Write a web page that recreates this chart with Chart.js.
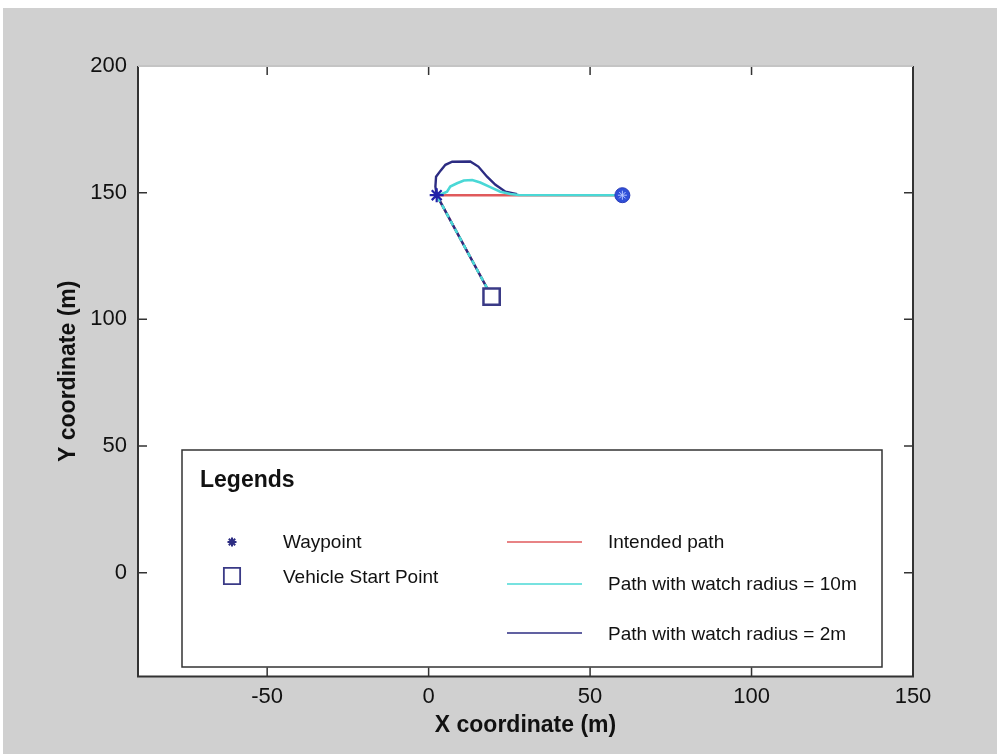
<!DOCTYPE html>
<html>
<head>
<meta charset="utf-8">
<title>Path following</title>
<script src="https://cdn.jsdelivr.net/npm/chart.js@4/dist/chart.umd.min.js"></script>
<style>
  html, body { margin: 0; padding: 0; background: #fff; }
  #wrap { position: absolute; left: 0; top: 0; width: 997px; height: 754px; }
</style>
</head>
<body>
<div id="wrap"><canvas id="pathChart" width="997" height="754"></canvas></div>
<script>
// positions in metres
const waypoint = [{ x: 2.5, y: 149 }];
const startPoint = [{ x: 19.5, y: 109 }];
const targetPoint = [{ x: 60, y: 149 }];

const intendedX = [19.5, 2.5, 60];
const intendedY = [109, 149, 149];

// watch radius = 10m
const radius10X = [19.5, 2.5, 4.3, 5.7, 6.7, 8.8, 10.9, 13.5, 16.0, 19.1, 22.2, 25.3, 27.9, 60];
const radius10Y = [109, 149, 149.6, 150.4, 152.4, 153.7, 154.8, 155.0, 154.0, 152.2, 150.4, 149.5, 149.1, 149];

// watch radius = 2m
const radius2X = [19.5, 2.5, 2.1, 2.3, 3.7, 5.2, 7.3, 12.9, 15.4, 18.1, 20.7, 23.8, 27.4];
const radius2Y = [109, 149, 152.4, 156.3, 158.7, 161.0, 162.2, 162.3, 160.3, 156.3, 153.1, 150.4, 149.4];

const xTicks = [-50, 0, 50, 100, 150];
const yTicks = [0, 50, 100, 150, 200];

const FONT = "'Liberation Sans', Arial, sans-serif";
const RED = '#e05a5c';
const CYAN = '#4ad8d6';
const NAVY = '#2c2c82';

function toPoints(xs, ys) {
  return xs.map((x, i) => ({ x: x, y: ys[i] }));
}

// grey figure background, white axes box, inward tick marks
const frame = {
  id: 'frame',
  beforeDraw(chart) {
    const { ctx, chartArea: a, width, height } = chart;
    ctx.save();
    ctx.fillStyle = '#ffffff';
    ctx.fillRect(0, 0, width, height);
    ctx.fillStyle = '#d0d0d0';
    ctx.fillRect(3, 8, width - 3, height - 8);
    ctx.fillStyle = '#ffffff';
    ctx.fillRect(a.left, a.top, a.right - a.left, a.bottom - a.top);
    ctx.restore();
  },
  afterDatasetsDraw(chart) {
    const { ctx, chartArea: a, scales } = chart;
    const len = 9;
    ctx.save();
    ctx.strokeStyle = '#333';
    ctx.lineWidth = 1.5;
    ctx.beginPath();
    xTicks.forEach((v) => {
      const px = scales.x.getPixelForValue(v);
      ctx.moveTo(px, a.bottom); ctx.lineTo(px, a.bottom - len);
      ctx.moveTo(px, a.top); ctx.lineTo(px, a.top + len);
    });
    yTicks.forEach((v) => {
      const py = scales.y.getPixelForValue(v);
      ctx.moveTo(a.left, py); ctx.lineTo(a.left + len, py);
      ctx.moveTo(a.right, py); ctx.lineTo(a.right - len, py);
    });
    ctx.stroke();

    ctx.lineWidth = 2;
    ctx.beginPath();
    ctx.moveTo(a.left, a.top);
    ctx.lineTo(a.left, a.bottom);
    ctx.lineTo(a.right, a.bottom);
    ctx.lineTo(a.right, a.top);
    ctx.stroke();
    ctx.strokeStyle = '#c4c4c4';
    ctx.beginPath();
    ctx.moveTo(a.left, a.top);
    ctx.lineTo(a.right, a.top);
    ctx.stroke();
    ctx.restore();
  }
};

// boxed legend in the lower part of the axes
const legendBox = {
  id: 'legendBox',
  afterDraw(chart) {
    const { ctx } = chart;
    const box = { x: 182, y: 450, w: 700, h: 217 };
    ctx.save();
    ctx.fillStyle = '#ffffff';
    ctx.fillRect(box.x, box.y, box.w, box.h);
    ctx.strokeStyle = '#333';
    ctx.lineWidth = 1.5;
    ctx.strokeRect(box.x, box.y, box.w, box.h);

    ctx.fillStyle = '#111';
    ctx.textBaseline = 'alphabetic';
    ctx.textAlign = 'left';
    ctx.font = 'bold 23px ' + FONT;
    ctx.fillText('Legends', 200, 487);

    ctx.font = '19px ' + FONT;
    const markers = [
      { label: 'Waypoint', style: 'star', color: NAVY, r: 4.5, y: 542, base: 548 },
      { label: 'Vehicle Start Point', style: 'rect', color: '#3a3a86', r: 11.5, y: 576, base: 582.5 }
    ];
    markers.forEach((m) => {
      ctx.strokeStyle = m.color;
      ctx.fillStyle = '#ffffff';
      ctx.lineWidth = m.style === 'star' ? 2 : 1.8;
      Chart.helpers.drawPoint(ctx, { pointStyle: m.style, radius: m.r, borderWidth: ctx.lineWidth }, 232, m.y);
      ctx.fillStyle = '#111';
      ctx.fillText(m.label, 283, m.base);
    });

    const lines = [
      { label: 'Intended path', color: RED, y: 542, base: 548 },
      { label: 'Path with watch radius = 10m', color: CYAN, y: 584, base: 590 },
      { label: 'Path with watch radius = 2m', color: NAVY, y: 633, base: 640 }
    ];
    lines.forEach((l) => {
      ctx.strokeStyle = l.color;
      ctx.lineWidth = 1.6;
      ctx.beginPath();
      ctx.moveTo(507, l.y);
      ctx.lineTo(582, l.y);
      ctx.stroke();
      ctx.fillStyle = '#111';
      ctx.fillText(l.label, 608, l.base);
    });
    ctx.restore();
  }
};

const pathLine = (data, color, width, order) => ({
  data: data,
  showLine: true,
  borderColor: color,
  borderWidth: width,
  pointRadius: 0,
  tension: 0,
  order: order
});

const radius10Line = pathLine(toPoints(radius10X, radius10Y), CYAN, 2.6, 4);
// the approach leg is shared with the 2m path, so let it show through
radius10Line.segment = { borderDash: (c) => (c.p0DataIndex === 0 ? [5, 4] : undefined) };

new Chart(document.getElementById('pathChart'), {
  type: 'scatter',
  data: {
    datasets: [
      pathLine(toPoints(intendedX, intendedY), RED, 2.4, 6),
      pathLine(toPoints(radius2X, radius2Y), NAVY, 2.4, 5),
      radius10Line,
      {
        data: startPoint,
        pointStyle: 'rect',
        pointRadius: 11.5,
        backgroundColor: '#ffffff',
        borderColor: '#3a3a86',
        borderWidth: 2.5,
        order: 3
      },
      {
        data: waypoint,
        pointStyle: 'star',
        pointRadius: 7,
        borderColor: '#2020a8',
        borderWidth: 2.2,
        order: 2
      },
      {
        data: targetPoint,
        pointStyle: 'circle',
        pointRadius: 7.5,
        backgroundColor: '#2f4fd8',
        borderColor: '#2a3cb8',
        borderWidth: 1,
        order: 1
      },
      {
        data: targetPoint,
        pointStyle: 'star',
        pointRadius: 4.5,
        borderColor: '#b4c4ff',
        borderWidth: 1,
        order: 0
      }
    ]
  },
  options: {
    responsive: false,
    animation: false,
    devicePixelRatio: 1,
    layout: { padding: { left: 0, top: 66, right: 84, bottom: 0 } },
    plugins: { legend: { display: false }, tooltip: { enabled: false } },
    scales: {
      x: {
        type: 'linear',
        min: -90,
        max: 150,
        afterBuildTicks: (s) => { s.ticks = xTicks.map((v) => ({ value: v })); },
        afterFit: (s) => { s.height = 77.5; },
        grid: { display: false, drawTicks: false },
        border: { display: false },
        ticks: { color: '#111', padding: 7, font: { family: FONT, size: 22 } },
        title: {
          display: true,
          text: 'X coordinate (m)',
          color: '#111',
          font: { family: FONT, size: 23, weight: 'bold' },
          padding: { top: 0, bottom: 15 }
        }
      },
      y: {
        type: 'linear',
        min: -41,
        max: 200,
        afterBuildTicks: (s) => { s.ticks = yTicks.map((v) => ({ value: v })); },
        afterFit: (s) => { s.width = 138; },
        grid: { display: false, drawTicks: false },
        border: { display: false },
        ticks: { color: '#111', padding: 11, font: { family: FONT, size: 22 } },
        title: {
          display: true,
          text: 'Y coordinate (m)',
          color: '#111',
          font: { family: FONT, size: 23, weight: 'bold' },
          padding: { top: 55, bottom: 0 }
        }
      }
    }
  },
  plugins: [frame, legendBox]
});
</script>
</body>
</html>
